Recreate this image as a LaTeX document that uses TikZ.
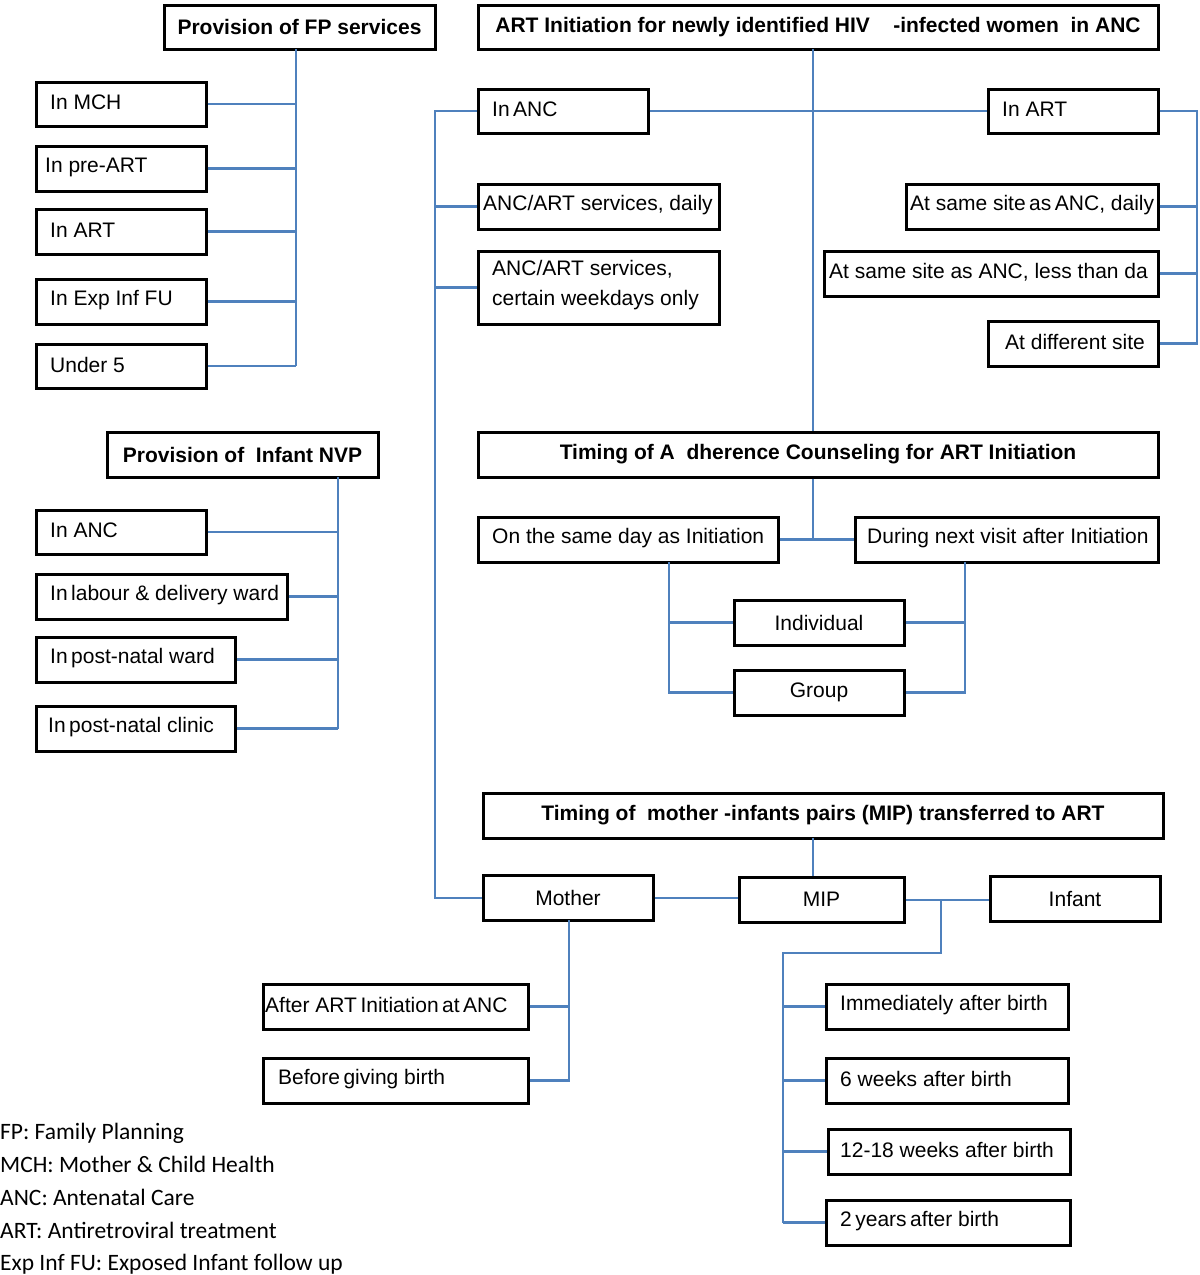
\documentclass[tikz,border=0pt]{standalone}
\usepackage{fontspec}
\setmainfont{Liberation Sans}
\newfontfamily\legfont{Carlito}
\definecolor{connblue}{RGB}{79,129,189}
\newcommand\lbox[7]{\node[box,anchor=north west,minimum width={#4-#2-3},minimum height={#5-#3-3}] (#1) at ({#2+1.5},{#3+1.5}) {};
  \node[txt,anchor=west] (#1-t) at (#6,{(#3+#5)/2}) {#7};}
\newcommand\cbox[6]{\node[box,anchor=north west,minimum width={#4-#2-3},minimum height={#5-#3-3}] (#1) at ({#2+1.5},{#3+1.5}) {};
  \node[txt] (#1-t) at (#1.center) {#6};}
\begin{document}
\begin{tikzpicture}[x=1pt,y=-1pt,
  box/.style={draw=black,line width=3pt,inner sep=0pt},
  txt/.style={inner sep=0pt,font=\fontsize{21}{25}\selectfont},
  conn/.style={draw=connblue,line width=2.6pt},
  leg/.style={inner sep=0pt,anchor=base west,font=\legfont\fontsize{23.5}{28}\selectfont}]
\useasboundingbox (0,0) rectangle (1200,1275);

% ---- FP services
\cbox{fp}{161}{2}{435}{49}{\bfseries Provision of FP services}
\lbox{mch}{33}{79}{206}{126}{50}{In MCH}
\lbox{pre}{33}{143}{206}{191}{45}{In pre-ART}
\lbox{artl}{33}{206}{206}{254}{50}{In ART}
\lbox{exp}{33}{276}{206}{324}{50}{In Exp Inf FU}
\lbox{und}{33}{341}{206}{388}{50}{Under 5}
\coordinate (fptr) at (296,49);
\draw[conn] (fptr) -- (und.east -| fptr);
\foreach \n in {mch,pre,artl,exp,und} \draw[conn] (\n.east) -- (\n.east -| fptr);

% ---- Infant NVP
\cbox{nvp}{104}{429}{378}{477}{\bfseries Provision of\ \ Infant NVP}
\lbox{nanc}{33}{507}{206}{554}{50}{In ANC}
\lbox{lab}{33}{571}{287}{619}{50}{In\,labour \& delivery ward}
\lbox{pnw}{33}{634}{235}{682}{50}{In\,post-natal ward}
\lbox{pnc}{33}{703}{235}{751}{48}{In\,post-natal clinic}
\coordinate (nvtr) at (338,477);
\draw[conn] (nvtr) -- (pnc.east -| nvtr);
\foreach \n in {nanc,lab,pnw,pnc} \draw[conn] (\n.east) -- (\n.east -| nvtr);

% ---- ART initiation
\cbox{art}{475}{2}{1158}{49}{\bfseries ART Initiation for newly identified HIV\ \ \ \ -infected women\ \ in ANC}
\lbox{anca}{475}{86}{648}{133}{492}{In\,ANC}
\lbox{artr}{985}{86}{1158}{133}{1002}{In ART}
\lbox{ancd}{475}{181}{719}{229}{483}{ANC/ART services, daily}
\node[box,anchor=north west,minimum width=241,minimum height=73] (ancw) at (476.5,249.5) {};
\node[txt,anchor=west,align=left,font=\fontsize{21}{30}\selectfont] (ancw-t) at (492,285) {ANC/ART services,\\certain weekdays only};
\lbox{samed}{903}{181}{1158}{229}{910}{At same site\,as\,ANC, daily}
\lbox{samel}{821}{248}{1158}{296}{829}{At same site as ANC, less than da}
\lbox{diff}{985}{318}{1158}{366}{1005}{At different site}

% ---- Adherence counseling
\cbox{adh}{475}{429}{1158}{477}{\bfseries Timing of A\ \ dherence Counseling for ART Initiation}
\lbox{same}{475}{514}{778}{562}{492}{On the same day as Initiation}
\lbox{next}{852}{514}{1158}{562}{867}{During next visit after Initiation}
\cbox{indiv}{731}{597}{904}{645}{Individual}
\cbox{group}{731}{667}{904}{715}{Group}

% ---- MIP
\cbox{mipt}{480}{790}{1163}{838}{\bfseries Timing of\ \ mother -infants pairs (MIP) transferred to ART}
\cbox{mother}{480}{872}{653}{920}{Mother}
\cbox{mip}{736}{874}{904}{922}{MIP}
\cbox{infant}{987}{873}{1160}{921}{Infant}
\lbox{after}{260}{981}{528}{1029}{265}{After ART\,Initiation\,at\,ANC}
\lbox{before}{260}{1055}{528}{1103}{278}{Before\,giving birth}
\lbox{imm}{823}{981}{1068}{1029}{840}{Immediately after birth}
\lbox{wk6}{823}{1055}{1068}{1103}{840}{6 weeks after birth}
\lbox{wk12}{825}{1126}{1070}{1174}{840}{12-18 weeks after birth}
\lbox{yr2}{823}{1197}{1070}{1245}{840}{2\,years\,after birth}

% ---- connectors (ART section)
\coordinate (arttr) at (813,49);
\draw[conn] (arttr) -- (arttr |- adh.north);
\draw[conn] (anca.east) -- (artr.west);
\coordinate (lb) at (435,109);
\draw[conn] (anca.west) -- (anca.west -| lb) -- (lb |- 0,898) -- (mother.west |- 0,898);
\draw[conn] (ancd.west) -- (ancd.west -| lb);
\draw[conn] (ancw.west) -- (ancw.west -| lb);
\coordinate (rb) at (1197,109);
\draw[conn] (artr.east) -- (artr.east -| rb) -- (diff.east -| rb) -- (diff.east);
\draw[conn] (samed.east) -- (samed.east -| rb);
\draw[conn] (samel.east) -- (samel.east -| rb);

% adherence connectors
\draw[conn] (arttr |- adh.south) -- (arttr |- same.east);
\draw[conn] (same.east) -- (next.west);
\coordinate (sb) at (669,562);
\coordinate (nb) at (965,562);
\draw[conn] (sb) -- (sb |- group.west) -- (group.west);
\draw[conn] (indiv.west) -- (indiv.west -| sb);
\draw[conn] (nb) -- (nb |- group.east) -- (group.east);
\draw[conn] (indiv.east) -- (indiv.east -| nb);

% MIP connectors
\coordinate (mtr) at (813,838);
\draw[conn] (mtr) -- (mtr |- mip.north);
\draw[conn] (mother.east |- 0,898) -- (mip.west |- 0,898);
\draw[conn] (mip.east |- 0,900) -- (infant.west |- 0,900);
\coordinate (ij) at (941,900);
\coordinate (ib) at (783,953);
\draw[conn] (ij) -- (ij |- ib) -- (ib) -- (ib |- yr2.west);
\foreach \n in {imm,wk6,wk12,yr2} \draw[conn] (\n.west) -- (\n.west -| ib);
\coordinate (mt) at (569,920);
\draw[conn] (mt) -- (mt |- before.east) -- (before.east);
\draw[conn] (after.east) -- (after.east -| mt);

% ---- legend
\node[leg] (l1) at (0,1139) {FP: Family Planning};
\node[leg] (l2) at (0,1172) {MCH: Mother \& Child Health};
\node[leg] (l3) at (0,1205) {ANC: Antenatal Care};
\node[leg] (l4) at (0,1238) {ART: Antiretroviral treatment};
\node[leg] (l5) at (0,1270) {Exp Inf FU: Exposed Infant follow up};
\end{tikzpicture}
\end{document}
